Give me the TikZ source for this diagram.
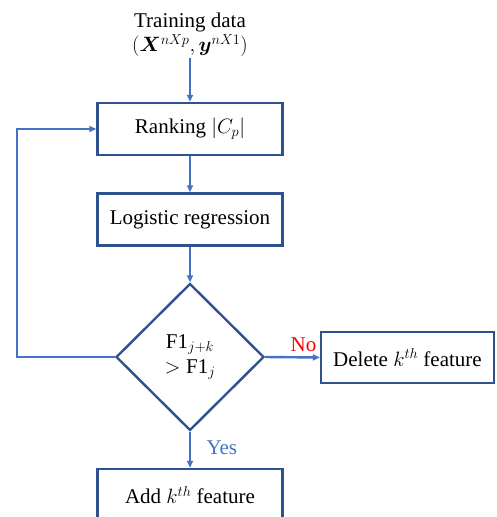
\documentclass[tikz,border=0pt]{standalone}
\usepackage{fontspec}
\usepackage{amsmath}
\usepackage{bm}
\setmainfont{Liberation Serif}
\usetikzlibrary{shapes.geometric,arrows.meta}
\definecolor{boxblue}{HTML}{2F528F}
\definecolor{linkblue}{HTML}{4472C4}
\begin{document}
\begin{tikzpicture}
  [
    x=1pt, y=-1pt,
    font=\fontsize{21}{25}\selectfont,
    block/.style =
      {draw=boxblue, line width=2.4pt, rectangle, align=center,
       minimum width=185pt, minimum height=52pt, inner sep=2pt},
    test/.style =
      {draw=boxblue, line width=2.4pt, diamond, align=center,
       minimum width=148pt, minimum height=147pt, inner sep=0pt},
    link/.style =
      {draw=linkblue, line width=2.4pt, -{Triangle[length=7pt,width=6pt]}}
  ]
  \useasboundingbox (0,0) rectangle (496,517);
  \node [align=center, inner sep=1pt] at (190,35)  (data)
    {Training data\\[-1pt]$(\bm{X}^{nXp},\bm{y}^{nX1})$};
  \node [block] at (190,129)   (rank) {Ranking $\lvert C_p\rvert$};
  \node [block] at (190,219.5) (lr)   {Logistic regression};
  \node [test]  at (190,357)   (f1)   {$\mathrm{F1}_{j+k}$\\$>\mathrm{F1}_{j}$};
  \node [block, minimum width=173pt, minimum height=51pt]
                at (407.5,357.5) (del) {Delete $k^{th}$ feature};
  \node [block] at (190,495)   (add)  {Add $k^{th}$ feature};
  \coordinate (back) at (17,357);

  \draw[link] (data.south) -- (rank.north);
  \draw[link] (rank.south) -- (lr.north);
  \draw[link] (lr.south)   -- (f1.north);
  \draw[link] (f1.east)    -- (del.west)
    node [pos=0.7, above=1pt, text=red] {No};
  \draw[link] (f1.south)   -- (add.north)
    node [pos=0.45, right=12pt, text=linkblue] {Yes};
  \draw[link] (f1.west) -- (back) |- (rank.west);
\end{tikzpicture}
\end{document}
